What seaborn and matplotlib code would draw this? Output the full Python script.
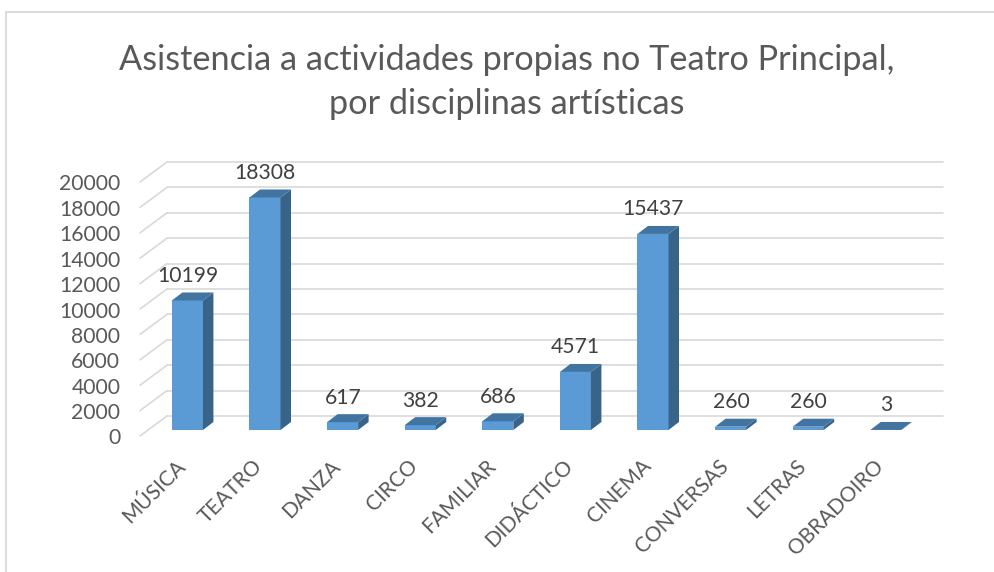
import numpy as np
import pandas as pd
import seaborn as sns
import matplotlib
matplotlib.use("Agg")
import matplotlib.pyplot as plt
from matplotlib.patches import Polygon
from matplotlib.lines import Line2D
from matplotlib.transforms import Affine2D, IdentityTransform

categories = ["MÚSICA", "TEATRO", "DANZA", "CIRCO", "FAMILIAR", "DIDÁCTICO",
              "CINEMA", "CONVERSAS", "LETRAS", "OBRADOIRO"]
values = [10199, 18308, 617, 382, 686, 4571, 15437, 260, 260, 3]
y_ticks = [0, 2000, 4000, 6000, 8000, 10000, 12000, 14000, 16000, 18000, 20000]
title = "Asistencia a actividades propias no Teatro Principal,\npor disciplinas artísticas"

W, H = 995, 572
FRONT, SIDE, TOP = "#5B9BD5", "#38648A", "#4274A2"
GRID, TXT, LABEL = "#D9D9D9", "#595959", "#404040"

sns.set_theme(style="white")
plt.rcParams["font.family"] = ["Lato", "DejaVu Sans"]

fig = plt.figure(figsize=(W / 100, H / 100), dpi=100, facecolor="white")
ax = fig.add_axes([148.6 / W, (H - 430) / H, 776 / W, 254 / H])
df = pd.DataFrame({"categoria": categories, "asistencia": values})
sns.barplot(data=df, x="categoria", y="asistencia", color=FRONT, saturation=1,
            width=0.4, ax=ax, zorder=3, linewidth=0, edgecolor="none")
ax.set_xlim(-0.5, len(categories) - 0.5)
ax.set_ylim(0, max(y_ticks))
ax.set_xlabel("")
ax.set_ylabel("")
ax.patch.set_visible(False)
for s in ax.spines.values():
    s.set_visible(False)

# pseudo-3D: pixel offsets of the wall and of the bar depth
to_back = Affine2D().translate(18.4, 14)
to_front = Affine2D().translate(-8.6, -6)
bar_dx, bar_dy = 10.5, 8
for t in y_ticks:
    ax.plot([-0.5, len(categories) - 0.5], [t, t], color=GRID, lw=1.2,
            transform=ax.transData + to_back, clip_on=False, zorder=1)
    p0 = (ax.transData + to_front).transform((-0.5, t))
    p1 = (ax.transData + to_back).transform((-0.5, t))
    ax.add_line(Line2D([p0[0], p1[0]], [p0[1], p1[1]], color=GRID, lw=1.2,
                       transform=IdentityTransform(), clip_on=False, zorder=1))

for bar, v in zip(ax.patches, values):
    x0, x1 = bar.get_x(), bar.get_x() + bar.get_width()
    (ax0, ay0), (ax1, ay1) = ax.transData.transform([(x0, 0), (x1, v)])
    top = [(ax0, ay1), (ax1, ay1), (ax1 + bar_dx, ay1 + bar_dy), (ax0 + bar_dx, ay1 + bar_dy)]
    side = [(ax1, ay0), (ax1 + bar_dx, ay0 + bar_dy), (ax1 + bar_dx, ay1 + bar_dy), (ax1, ay1)]
    ax.add_patch(Polygon(side, closed=True, fc=SIDE, ec="none",
                         transform=IdentityTransform(), clip_on=False, zorder=3))
    ax.add_patch(Polygon(top, closed=True, fc=TOP, ec="none",
                         transform=IdentityTransform(), clip_on=False, zorder=3))
    ax.annotate(f"{v}", xy=((x0 + x1) / 2, v), xytext=(0.2, 24.5 * 0.72),
                textcoords="offset points", ha="center", va="center",
                color=LABEL, fontsize=15.2, annotation_clip=False, zorder=5)

ax.set_yticks(y_ticks)
ax.tick_params(axis="both", length=0)
for lab in ax.get_yticklabels():
    lab.set_fontsize(15.2)
    lab.set_color(TXT)
    lab.set_ha("right")
    lab.set_transform(lab.get_transform() + Affine2D().translate(-23.5, -6.5))
ax.set_xticks(range(len(categories)))
ax.set_xticklabels(categories, rotation=45, ha="right", va="top", rotation_mode="anchor",
                   fontsize=15, color=TXT)
for lab in ax.get_xticklabels():
    lab.set_transform(lab.get_transform() + Affine2D().translate(-12.5, -21))

fig.text(507 / W, 1 - 82 / H, title, ha="center", va="center", fontsize=24.7,
         color=TXT, linespacing=1.45)

# chart frame
fig.add_artist(Line2D([6.5 / W, 6.5 / W], [0, 1 - 11.5 / H], color=GRID, lw=1.3))
fig.add_artist(Line2D([6.5 / W, 1], [1 - 11.5 / H, 1 - 11.5 / H], color=GRID, lw=1.3))

fig.savefig("out.png", dpi=100, facecolor="white")
